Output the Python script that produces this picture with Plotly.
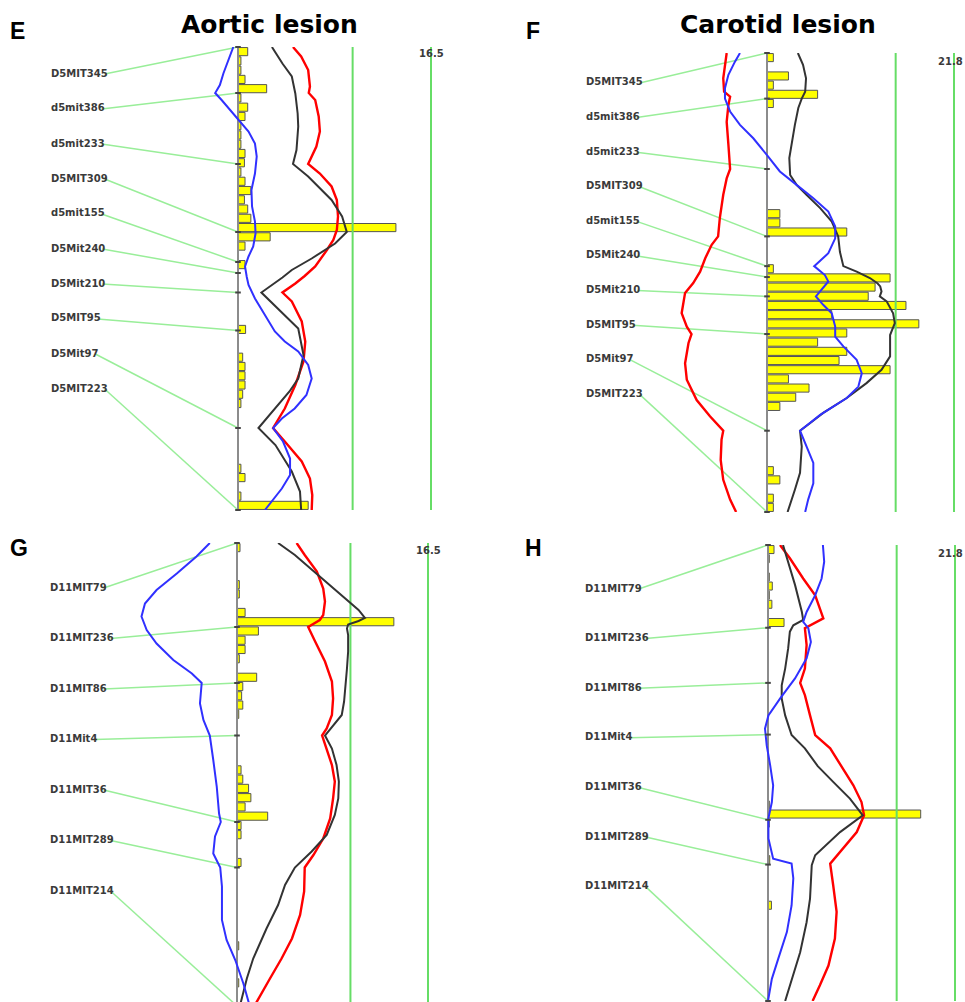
import plotly.graph_objects as go

# ---------------------------------------------------------------- markers
chr5_markers = ["D5MIT345", "d5mit386", "d5mit233", "D5MIT309", "d5mit155",
                "D5Mit240", "D5Mit210", "D5MIT95", "D5Mit97", "D5MIT223"]
chr5_pos = [0.0, 9.2, 23.4, 37.0, 43.0, 45.2, 49.1, 56.7, 76.2, 92.6]
chr5_length = 92.6

chr11_markers = ["D11MIT79", "D11MIT236", "D11MIT86", "D11Mit4",
                 "D11MIT36", "D11MIT289", "D11MIT214"]
chr11_pos = [0.0, 16.8, 28.0, 38.5, 55.8, 64.9, 92.6]
chr11_length = 92.6

n_bins = 50

aortic_threshold = 9.8
aortic_max = 16.5
carotid_threshold = 15.0
carotid_max = 21.8

# ---------------------------------------------------------------- aortic lesion, chr 5
aortic5_black_pos = [0, 3.3, 5.9, 9.3, 13.3, 15.9, 20.6, 23.4, 25.9, 30.6, 33.9, 37.0, 39.3,
                     42.3, 44.6, 46.1, 49.1, 52.3, 56.3, 61.6, 66.3, 68.9, 76.2, 79.6, 84.9,
                     88.9, 92.6]
aortic5_black_lod = [2.9, 3.8, 4.6, 4.9, 5.1, 5.15, 5.0, 4.7, 6.0, 8.0, 8.9, 9.3, 8.3,
                     6.3, 4.6, 3.8, 2.0, 3.4, 5.15, 5.6, 5.15, 4.4, 1.75, 3.2, 4.6,
                     5.3, 5.4]
aortic5_red_pos = [0, 1.9, 4.6, 7.9, 9.2, 10.6, 13.9, 16.9, 19.9, 23.4, 25.3, 27.9, 30.6,
                   33.9, 36.6, 38.6, 40.6, 43.9, 45.8, 47.3, 49.1, 50.9, 54.9, 58.9, 62.9,
                   67.6, 72.3, 76.2, 78.9, 82.9, 86.3, 89.6, 92.6]
aortic5_red_lod = [4.7, 5.4, 6.0, 6.15, 6.05, 6.6, 6.9, 7.0, 6.7, 6.0, 7.0, 8.0, 8.45,
                   8.55, 8.45, 8.15, 7.6, 6.6, 5.7, 4.9, 3.8, 4.6, 5.45, 5.75, 5.6,
                   4.9, 4.0, 3.0, 4.0, 5.45, 6.15, 6.35, 6.3]
aortic5_blue_pos = [0, 2.6, 5.3, 7.6, 9.2, 10.6, 12.9, 14.9, 16.9, 19.3, 21.9, 25.3, 28.6,
                    31.9, 34.9, 37.3, 39.9, 41.9, 43.9, 46.0, 47.6, 50.3, 54.3, 56.9, 58.9,
                    60.9, 63.6, 66.3, 69.6, 72.3, 74.3, 76.2, 78.9, 82.3, 85.6, 88.3, 92.6]
aortic5_blue_lod = [-0.4, -0.85, -1.25, -1.55, -1.95, -1.4, -0.55, 0.15, 0.9, 1.45, 1.6, 1.45, 1.15,
                    1.2, 1.45, 1.5, 1.3, 0.9, 0.6, 0.75, 0.9, 1.45, 2.45, 3.15, 4.0,
                    5.15, 6.0, 6.3, 5.85, 4.85, 3.75, 3.0, 3.85, 4.45, 4.45, 3.75, 2.3]
aortic5_bins = [0, 1, 2, 3, 4, 5, 6, 7, 8, 9, 10, 11, 12, 13, 14, 15, 16, 17, 18, 19, 20, 21,
                23, 30, 33, 34, 35, 36, 37, 38, 45, 46, 48, 49]
aortic5_hist = [0.83, 0.25, 0.25, 0.6, 2.45, 0.25, 0.83, 0.6, 0.25, 0.25, 0.25, 0.6, 0.55, 0.25,
                0.6, 1.1, 0.55, 0.83, 1.1, 13.5, 2.75, 0.6,
                0.6, 0.65, 0.4, 0.6, 0.6, 0.6, 0.4, 0.25, 0.25, 0.6, 0.25, 6.0]

# ---------------------------------------------------------------- carotid lesion, chr 5
carotid5_black_pos = [0, 2.4, 5.1, 7.8, 9.2, 11.1, 14.5, 17.9, 21.2, 24.6, 26.6, 28.6, 31.3,
                      34.0, 37.0, 40.1, 43.0, 44.1, 45.4, 46.5, 47.1, 48.1, 49.1, 50.1, 52.5,
                      54.5, 56.9, 58.5, 61.2, 63.9, 66.6, 69.6, 72.6, 74.7, 76.2, 79.4, 84.7,
                      88.1, 92.6]
carotid5_black_lod = [3.6, 4.2, 4.55, 4.45, 4.05, 3.65, 3.25, 2.9, 2.6, 2.7, 3.45, 4.6, 6.2,
                      7.55, 8.3, 8.5, 8.9, 10.45, 12.0, 12.9, 13.2, 13.35, 13.15, 13.95, 14.7,
                      14.9, 14.35, 14.35, 14.35, 13.35, 11.6, 9.3, 6.55, 5.0, 3.85, 4.05, 3.85,
                      3.25, 2.4]
carotid5_red_pos = [0, 2.4, 5.1, 7.8, 8.8, 10.5, 13.9, 18.5, 23.4, 25.3, 28.6, 33.3, 37.0,
                    38.7, 41.4, 44.1, 46.4, 48.4, 52.5, 55.2, 56.7, 58.5, 62.6, 65.9, 70.0,
                    73.3, 76.2, 78.0, 82.1, 86.1, 90.1, 92.6]
carotid5_red_lod = [-4.7, -4.9, -5.1, -5.0, -4.3, -4.5, -4.7, -4.5, -4.3, -4.7, -5.1, -5.5, -5.7,
                    -6.45, -7.2, -7.8, -8.6, -9.55, -9.95, -9.35, -8.8, -9.15, -9.55, -9.35, -8.2,
                    -6.65, -5.1, -5.3, -5.4, -5.1, -4.3, -3.6]
carotid5_blue_pos = [0, 1.8, 4.4, 7.1, 9.2, 11.8, 14.5, 17.2, 20.6, 23.9, 26.6, 29.3, 32.0,
                     35.0, 37.4, 40.4, 43.0, 44.8, 46.1, 47.4, 49.1, 50.8, 52.5, 55.2, 57.2,
                     59.2, 61.9, 64.6, 67.3, 69.6, 73.0, 76.2, 79.4, 82.7, 86.8, 90.1, 92.6]
carotid5_blue_lod = [-3.15, -3.75, -4.5, -4.9, -4.9, -4.3, -3.15, -1.6, 0.0, 1.5, 3.45, 5.4, 7.15,
                     7.95, 7.95, 7.15, 5.5, 6.75, 7.15, 6.55, 5.7, 6.55, 7.55, 7.95, 7.95,
                     8.9, 10.45, 11.05, 10.65, 9.3, 6.2, 3.85, 4.65, 5.4, 5.4, 4.8, 4.45]
carotid5_bins = [0, 2, 3, 4, 5, 17, 18, 19, 23, 24, 25, 26, 27, 28, 29, 30, 31, 32, 33, 34,
                 35, 36, 37, 38, 45, 46, 48, 49]
carotid5_hist = [0.74, 2.5, 0.74, 5.9, 0.74, 1.5, 1.5, 9.3, 0.74, 14.35, 12.6, 11.8, 16.2, 7.55,
                 17.7, 9.3, 5.9, 9.3, 8.4, 14.35, 2.5, 4.9, 3.35, 1.5, 0.74, 1.5, 0.74, 0.74]

# ---------------------------------------------------------------- aortic lesion, chr 11
aortic11_black_pos = [0, 2.4, 6.4, 10.4, 13.4, 15.0, 15.6, 16.3, 17.1, 18.4, 21.7, 25.1, 28.4,
                      31.7, 34.4, 36.7, 38.5, 41.1, 44.4, 47.7, 51.1, 54.4, 58.4, 61.7, 64.9,
                      68.4, 72.4, 77.1, 83.1, 87.1, 91.1, 92.6]
aortic11_black_lod = [3.55, 5.0, 7.0, 9.05, 10.5, 11.05, 10.5, 9.6, 9.5, 9.6, 9.6, 9.5, 9.35,
                      9.25, 9.05, 8.2, 7.6, 8.2, 8.6, 8.8, 8.75, 8.45, 7.75, 6.45, 5.0,
                      4.15, 3.55, 2.55, 1.4, 0.85, 0.4, 0.25]
aortic11_red_pos = [0, 2.4, 5.7, 9.1, 11.7, 14.4, 15.4, 16.8, 19.7, 23.7, 27.7, 31.1, 34.4,
                    37.1, 38.5, 41.1, 44.4, 47.7, 51.1, 55.1, 59.1, 62.4, 64.9, 69.7, 74.4,
                    79.1, 83.1, 87.1, 91.1, 92.6]
aortic11_red_lod = [5.15, 5.85, 6.9, 7.45, 7.6, 7.45, 7.15, 6.15, 6.75, 7.6, 8.2, 8.3, 8.2,
                    7.75, 7.35, 7.75, 8.2, 8.45, 8.3, 8.05, 7.45, 6.6, 5.85, 5.8, 5.45,
                    4.75, 3.85, 2.85, 1.85, 1.5]
aortic11_blue_pos = [0, 2.7, 6.1, 9.4, 12.1, 14.7, 17.4, 20.1, 23.4, 26.1, 28.0, 32.1, 35.4,
                     38.5, 43.4, 48.7, 54.1, 55.8, 58.7, 62.1, 64.9, 68.7, 75.4, 79.4, 83.4,
                     88.1, 92.6]
aortic11_blue_lod = [-2.35, -3.5, -5.2, -6.95, -7.95, -8.25, -7.8, -6.95, -5.5, -3.9, -3.05, -3.2, -2.9,
                     -2.35, -2.05, -1.75, -1.55, -1.4, -1.9, -2.05, -1.45, -1.3, -1.3, -0.9, -0.15,
                     0.55, 1.1]
aortic11_bins = [0, 4, 5, 7, 8, 9, 10, 11, 12, 14, 15, 16, 17, 18, 24, 25, 26, 27, 28, 29,
                 30, 31, 34, 43, 47]
aortic11_hist = [0.26, 0.2, 0.2, 0.7, 13.55, 1.85, 0.7, 0.7, 0.2, 1.7, 0.5, 0.4, 0.5, 0.15,
                 0.35, 0.5, 1.0, 1.2, 0.7, 2.65, 0.35, 0.35, 0.35, 0.15, 0.15]

# ---------------------------------------------------------------- carotid lesion, chr 11
carotid11_black_pos = [0, 3.4, 8.1, 13.6, 15.2, 16.3, 17.6, 21.0, 25.1, 28.5, 31.2, 34.6, 38.6,
                       41.3, 44.9, 48.1, 51.5, 54.9, 58.3, 63.0, 65.0, 71.8, 76.6, 82.7, 87.4,
                       91.5, 92.6]
carotid11_black_lod = [1.75, 2.35, 3.15, 3.95, 4.1, 2.95, 2.55, 2.35, 2.0, 1.6, 1.6, 2.0, 2.75,
                       4.3, 5.8, 7.6, 9.55, 11.05, 8.4, 5.5, 5.1, 4.9, 4.5, 3.75, 2.95,
                       2.2, 2.0]
carotid11_red_pos = [0, 2.7, 6.8, 10.2, 14.9, 15.9, 16.9, 20.3, 25.1, 28.0, 30.5, 34.6, 38.6,
                     41.3, 44.7, 48.8, 52.2, 54.9, 58.3, 61.6, 64.7, 69.1, 74.5, 79.9, 85.4,
                     89.4, 92.6]
carotid11_red_lod = [1.4, 2.55, 4.1, 5.5, 6.45, 5.3, 4.3, 4.5, 4.3, 3.75, 4.3, 4.9, 5.5,
                     7.25, 8.5, 9.95, 10.9, 11.2, 10.35, 8.8, 7.25, 7.6, 8.0, 7.8, 7.05,
                     6.05, 5.2]
carotid11_blue_pos = [0, 3.4, 6.8, 10.2, 13.6, 15.6, 16.9, 19.7, 23.0, 27.1, 31.2, 34.6, 37.3,
                      40.7, 44.7, 48.8, 52.2, 55.5, 59.6, 63.7, 64.7, 67.7, 73.2, 78.6, 84.0,
                      88.1, 92.6]
carotid11_blue_lod = [6.4, 6.55, 6.25, 5.5, 4.5, 4.1, 4.7, 5.0, 4.5, 3.15, 1.4, 0.05, -0.35,
                      -0.15, 0.25, 0.6, 0.45, 0.05, 0.05, 0.6, 2.75, 2.95, 2.75, 2.2, 1.2,
                      0.45, 0.0]
carotid11_bins = [0, 1, 3, 4, 5, 6, 8, 28, 29, 30, 34, 39]
carotid11_hist = [0.7, 0.15, 0.15, 0.5, 0.15, 0.45, 1.87, 0.15, 17.8, 0.15, 0.2, 0.4]

# ---------------------------------------------------------------- styling
W, H = 965, 1002
GREEN = "#66dd66"
LINK_GREEN = "#99ee99"
AXIS_GRAY = "#8c8c8c"
BLACK = "#333333"
RED = "#ff0000"
BLUE = "#3030ff"
LABEL_FONT = dict(family="DejaVu Sans", size=10, color="#3a3a3a")

# per-panel placement on the page (pixels)
panels = [
    dict(letter="E", title="Aortic lesion", axis="", col=(0, 480),
         zero_px=238, max_px=431, maxval=aortic_max, threshold=aortic_threshold,
         y_top=47, y_end=510, names=chr5_markers, pos=chr5_pos, length=chr5_length,
         curves=[(aortic5_red_pos, aortic5_red_lod, RED, 2.4),
                 (aortic5_black_pos, aortic5_black_lod, BLACK, 2),
                 (aortic5_blue_pos, aortic5_blue_lod, BLUE, 2)],
         bins=aortic5_bins, hist=aortic5_hist,
         label_left=49, label_first=73, label_step=35.0,
         letter_xy=(17, 31), title_xy=(269.5, 25), max_label=(431, 53.5, "center")),
    dict(letter="F", title="Carotid lesion", axis="2", col=(480, 965),
         zero_px=767, max_px=954, maxval=carotid_max, threshold=carotid_threshold,
         y_top=53, y_end=512, names=chr5_markers, pos=chr5_pos, length=chr5_length,
         curves=[(carotid5_red_pos, carotid5_red_lod, RED, 2.4),
                 (carotid5_black_pos, carotid5_black_lod, BLACK, 2),
                 (carotid5_blue_pos, carotid5_blue_lod, BLUE, 2)],
         bins=carotid5_bins, hist=carotid5_hist,
         label_left=584, label_first=82, label_step=34.6,
         letter_xy=(532.5, 31.5), title_xy=(778.3, 25), max_label=(964.5, 62, "right")),
    dict(letter="G", title=None, axis="3", col=(0, 480),
         zero_px=237, max_px=428, maxval=aortic_max, threshold=aortic_threshold,
         y_top=543, y_end=1006, names=chr11_markers, pos=chr11_pos, length=chr11_length,
         curves=[(aortic11_red_pos, aortic11_red_lod, RED, 2.4),
                 (aortic11_black_pos, aortic11_black_lod, BLACK, 2),
                 (aortic11_blue_pos, aortic11_blue_lod, BLUE, 2)],
         bins=aortic11_bins, hist=aortic11_hist,
         label_left=48, label_first=587, label_step=50.5,
         letter_xy=(18.5, 548), title_xy=None, max_label=(428, 550, "center")),
    dict(letter="H", title=None, axis="4", col=(480, 965),
         zero_px=768, max_px=955, maxval=carotid_max, threshold=carotid_threshold,
         y_top=545, y_end=1001, names=chr11_markers, pos=chr11_pos, length=chr11_length,
         curves=[(carotid11_red_pos, carotid11_red_lod, RED, 2.4),
                 (carotid11_black_pos, carotid11_black_lod, BLACK, 2),
                 (carotid11_blue_pos, carotid11_blue_lod, BLUE, 2)],
         bins=carotid11_bins, hist=carotid11_hist,
         label_left=583, label_first=588, label_step=49.6,
         letter_xy=(533.5, 547.5), title_xy=None, max_label=(964.5, 553.5, "right")),
]

# approximate advance widths (em) of DejaVu Sans Bold, used to end the label leaders
GLYPH_EM = {"D": 0.828, "M": 0.995, "I": 0.372, "T": 0.682,
            "d": 0.716, "m": 1.042, "i": 0.343, "t": 0.478}


def text_width_px(s, size):
    return size * sum(GLYPH_EM.get(c, 0.696) for c in s)


fig = go.Figure()
annotations = []
layout_axes = {}

for p in panels:
    xa, ya = "x" + p["axis"], "y" + p["axis"]
    L = p["length"]
    sx = (p["max_px"] - p["zero_px"]) / p["maxval"]          # px per LOD unit
    sy = (p["y_end"] - p["y_top"]) / L                        # px per cM
    y_bottom = min(p["y_end"], H)
    x0, x1 = p["col"]

    layout_axes["xaxis" + p["axis"]] = dict(
        domain=[x0 / W, x1 / W],
        range=[(x0 - p["zero_px"]) / sx, (x1 - p["zero_px"]) / sx],
        visible=False, fixedrange=True, anchor=ya)
    layout_axes["yaxis" + p["axis"]] = dict(
        domain=[1 - y_bottom / H, 1 - p["y_top"] / H],
        range=[(y_bottom - p["y_top"]) / sy, 0],
        visible=False, fixedrange=True, anchor=xa)

    common = dict(xaxis=xa, yaxis=ya, hoverinfo="skip", showlegend=False)

    # threshold and scale-maximum lines
    for v in (p["threshold"], p["maxval"]):
        fig.add_trace(go.Scatter(x=[v, v], y=[0, L], mode="lines",
                                 line=dict(color=GREEN, width=2), **common))

    # leaders from marker names to their map position
    for i, (name, mpos) in enumerate(zip(p["names"], p["pos"])):
        ly = p["label_first"] + i * p["label_step"]
        lx_end = p["label_left"] + text_width_px(name, 10) - 1
        fig.add_trace(go.Scatter(
            x=[(lx_end - p["zero_px"]) / sx, 0],
            y=[(ly + 1 - p["y_top"]) / sy, mpos],
            mode="lines", line=dict(color=LINK_GREEN, width=1.5), **common))
        annotations.append(dict(
            text="<b>%s</b>" % name, x=p["label_left"] / W, y=1 - ly / H,
            xref="paper", yref="paper", xanchor="left", yanchor="middle",
            showarrow=False, font=LABEL_FONT))

    # chromosome axis
    fig.add_trace(go.Scatter(x=[0, 0], y=[0, L], mode="lines",
                             line=dict(color=AXIS_GRAY, width=2), **common))

    # histogram of peak positions
    bw = L / n_bins
    fig.add_trace(go.Bar(
        x=p["hist"], y=[(b + 0.5) * bw for b in p["bins"]], orientation="h",
        width=0.88 * bw, base=0,
        marker=dict(color="#ffff00", line=dict(color="#555555", width=1)),
        **common))

    # profiles
    for cpos, lod, color, lw in p["curves"]:
        fig.add_trace(go.Scatter(x=lod, y=cpos, mode="lines",
                                 line=dict(color=color, width=lw), **common))

    # marker ticks on the axis
    fig.add_trace(go.Scatter(
        x=[0] * len(p["pos"]), y=p["pos"], mode="markers",
        marker=dict(symbol="line-ew", size=4, line=dict(color="#444444", width=2)),
        cliponaxis=False, **common))

    # panel letter, heading and scale maximum
    annotations.append(dict(
        text="<b>%s</b>" % p["letter"], x=p["letter_xy"][0] / W, y=1 - p["letter_xy"][1] / H,
        xref="paper", yref="paper", xanchor="center", yanchor="middle", showarrow=False,
        font=dict(family="Liberation Sans", size=23, color="#000000")))
    if p["title"]:
        annotations.append(dict(
            text="<b>%s</b>" % p["title"], x=p["title_xy"][0] / W, y=1 - p["title_xy"][1] / H,
            xref="paper", yref="paper", xanchor="center", yanchor="middle", showarrow=False,
            font=dict(family="DejaVu Sans", size=25, color="#000000")))
    mx, my, manchor = p["max_label"]
    annotations.append(dict(
        text="<b>%s</b>" % p["maxval"], x=mx / W, y=1 - my / H,
        xref="paper", yref="paper", xanchor=manchor, yanchor="middle", showarrow=False,
        font=LABEL_FONT))

fig.update_layout(
    width=W, height=H, margin=dict(l=0, r=0, t=0, b=0),
    paper_bgcolor="white", plot_bgcolor="rgba(0,0,0,0)",
    showlegend=False, annotations=annotations, **layout_axes)

fig.write_html("out.html", config={"displayModeBar": False})
